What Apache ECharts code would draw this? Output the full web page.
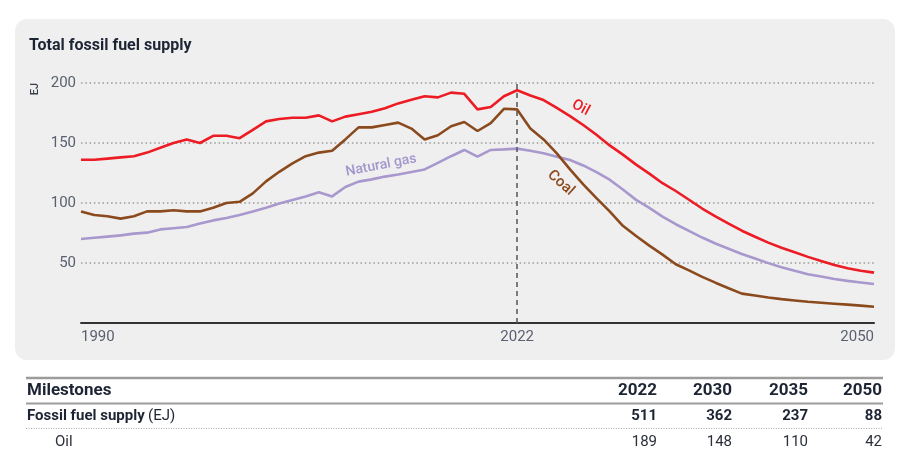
<!DOCTYPE html>
<html>
<head>
<meta charset="utf-8">
<script src="https://cdn.jsdelivr.net/npm/echarts@6/dist/echarts.min.js"></script>
<style>
html,body{margin:0;padding:0;background:#fff;}
#chart{width:907px;height:452px;}
</style>
</head>
<body>
<div id="chart"></div>
<script>
// ---- data ----
const years = [1990,1991,1992,1993,1994,1995,1996,1997,1998,1999,
  2000,2001,2002,2003,2004,2005,2006,2007,2008,2009,
  2010,2011,2012,2013,2014,2015,2016,2017,2018,2019,
  2020,2021,2022,2023,2024,2025,2026,2027,2028,2029,
  2030,2031,2032,2033,2034,2035,2036,2037,2038,2039,
  2040,2041,2042,2043,2044,2045,2046,2047,2048,2049,2050];
const oil = [136,136,137,138,139,142,146,150,153,150,
  156,156,154,161,168,170,171,171,173,168,
  172,174,176,179,183,186,189,188,192,191,
  178,180,189,194,189.6,185.8,179.2,172.4,165,156.9,
  148,140.3,132,124.5,116.5,110,102.7,95.4,88.9,82.8,
  76.9,71.9,67,62.7,58.9,55.1,51.7,48.4,45.6,43.6,42];
const coal = [93,90,89,87,89,93,93,94,93,93,
  96,100,101,108,118,126,133,139,142,143.5,
  153,163,163,165,167,162,153,156.5,164,167.5,
  160,166.5,178.5,178,162,153,141.4,128,115.6,104,
  93,81,72.5,64.5,57,49,43.9,38.4,33.6,28.9,
  24.5,22.9,21.3,19.9,18.8,17.7,16.9,16.1,15.3,14.5,13.6];
const gas = [70,71,72,73,74.5,75.3,78,79,80,83,
  85.5,87.5,90,93,96,99.5,102.5,105.5,109,105.5,
  113.3,117.8,119.7,122,123.8,125.8,128,133.4,139,144.2,
  138.6,144.2,144.7,145.3,143.5,141.4,138.6,135.8,131.3,125.8,
  119.4,111.2,102.6,96,88.7,82.3,76.7,71.2,66.3,61.9,
  57.5,53.7,49.9,46.5,43.5,40.7,38.7,36.7,35.1,33.8,32.5];
const xTickValues = [1990, 2023, 2050];
const xTickLabels = ['1990', '2022', '2050'];
const yTicks = [50, 100, 150, 200];
const markerYear = 2023;
// table
const milestoneYears = ['2022', '2030', '2035', '2050'];
const fossilSupply = [511, 362, 237, 88];
const oilMilestones = [189, 148, 110, 42];

// ---- styles ----
const FONT = 'Roboto, "Noto Sans", sans-serif';
const C_OIL = '#ed1c24', C_COAL = '#8b4a1e', C_GAS = '#a898cd';
const TXT = '#1d2433';

const pair = arr => years.map((y, i) => [y, arr[i]]);

function lineLabel(name, coord, rot, color, size) {
  return {
    symbol: 'circle', symbolSize: 1, silent: true,
    itemStyle: {color: 'transparent'},
    data: [{coord: coord, value: name}],
    label: {show: true, position: 'inside', formatter: name, rotate: rot,
      color: color, fontSize: size, fontFamily: FONT, fontWeight: 500}
  };
}

const chart = echarts.init(document.getElementById('chart'), null, {renderer: 'canvas'});

// table graphics
const colRight = [657, 732, 808, 882];
const tableG = [];
tableG.push({type: 'line', shape: {x1: 26, y1: 378, x2: 883, y2: 378}, style: {stroke: '#9c9c9c', lineWidth: 2.5}});
tableG.push({type: 'text', x: 27, y: 391, style: {text: 'Milestones', fill: TXT, font: 'bold 17px ' + FONT, verticalAlign: 'middle'}});
tableG.push({type: 'line', shape: {x1: 26, y1: 403.5, x2: 883, y2: 403.5}, style: {stroke: '#9c9c9c', lineWidth: 2}});
tableG.push({type: 'text', x: 27, y: 416, style: {
  text: '{b|Fossil fuel supply} {n|(EJ)}', verticalAlign: 'middle', fill: TXT,
  rich: {b: {font: 'bold 15px ' + FONT, fill: TXT}, n: {font: '15px ' + FONT, fill: TXT}}}});
tableG.push({type: 'line', shape: {x1: 26, y1: 428.5, x2: 883, y2: 428.5}, style: {stroke: '#a8a8a8', lineWidth: 1, lineDash: [1, 1.5]}});
tableG.push({type: 'text', x: 55, y: 442, style: {text: 'Oil', fill: '#2a2f3a', font: '15px ' + FONT, verticalAlign: 'middle'}});
milestoneYears.forEach((t, i) => {
  tableG.push({type: 'text', x: colRight[i], y: 391, style: {text: t, fill: TXT, font: 'bold 17px ' + FONT, align: 'right', verticalAlign: 'middle'}});
  tableG.push({type: 'text', x: colRight[i], y: 416, style: {text: String(fossilSupply[i]), fill: TXT, font: 'bold 15px ' + FONT, align: 'right', verticalAlign: 'middle'}});
  tableG.push({type: 'text', x: colRight[i], y: 442, style: {text: String(oilMilestones[i]), fill: '#2a2f3a', font: '15px ' + FONT, align: 'right', verticalAlign: 'middle'}});
});

const option = {
  animation: false,
  backgroundColor: '#ffffff',
  title: {
    text: 'Total fossil fuel supply', left: 24, top: 33,
    textStyle: {fontSize: 16, fontWeight: 'bold', color: TXT, fontFamily: FONT}
  },
  graphic: [
    {type: 'rect', z: -10, silent: true, shape: {x: 15, y: 19, width: 880, height: 341, r: 12}, style: {fill: '#efefef'}},
    {type: 'text', x: 35, y: 89, rotation: Math.PI / 2, silent: true,
      style: {text: 'EJ', fill: '#3a4050', font: '500 11px ' + FONT, align: 'center', verticalAlign: 'middle'}}
  ].concat(tableG),
  grid: {left: 81, right: 33, top: 83, bottom: 129},
  xAxis: {
    type: 'value', min: 1990, max: 2050,
    axisLine: {show: true, lineStyle: {color: '#333', width: 2}},
    axisTick: {show: false},
    splitLine: {show: false},
    axisLabel: {
      customValues: xTickValues,
      formatter: v => xTickLabels[xTickValues.indexOf(v)] || '',
      alignMinLabel: 'left', alignMaxLabel: 'right',
      color: '#5a6070', fontSize: 15, fontFamily: FONT, margin: 7
    }
  },
  yAxis: {
    type: 'value', min: 0, max: 200, interval: 50,
    axisLine: {show: false}, axisTick: {show: false},
    splitLine: {show: true, lineStyle: {color: '#9a9a9a', width: 1.5, type: [1.5, 2.8]}},
    axisLabel: {
      formatter: v => (yTicks.indexOf(v) >= 0 ? String(v) : ''),
      color: '#5a6070', fontSize: 15, fontFamily: FONT, margin: 5
    }
  },
  series: [
    {name: 'Natural gas', type: 'line', data: pair(gas), showSymbol: false, symbol: 'none',
      lineStyle: {color: C_GAS, width: 2.6}, z: 3,
      markPoint: lineLabel('Natural gas', [2012.7, 131.3], 11, '#a396cc', 14)},
    {name: 'Coal', type: 'line', data: pair(coal), showSymbol: false, symbol: 'none',
      lineStyle: {color: C_COAL, width: 2.6}, z: 4,
      markPoint: lineLabel('Coal', [2026.3, 116.7], -42, C_COAL, 15)},
    {name: 'Oil', type: 'line', data: pair(oil), showSymbol: false, symbol: 'none',
      lineStyle: {color: C_OIL, width: 2.6}, z: 5,
      markPoint: lineLabel('Oil', [2027.8, 179.2], -28, C_OIL, 15),
      markLine: {
        silent: true, symbol: 'none', label: {show: false},
        lineStyle: {color: '#555', width: 1.5, type: [5, 4]},
        data: [{xAxis: markerYear}]
      }}
  ]
};
chart.setOption(option);
</script>
</body>
</html>
